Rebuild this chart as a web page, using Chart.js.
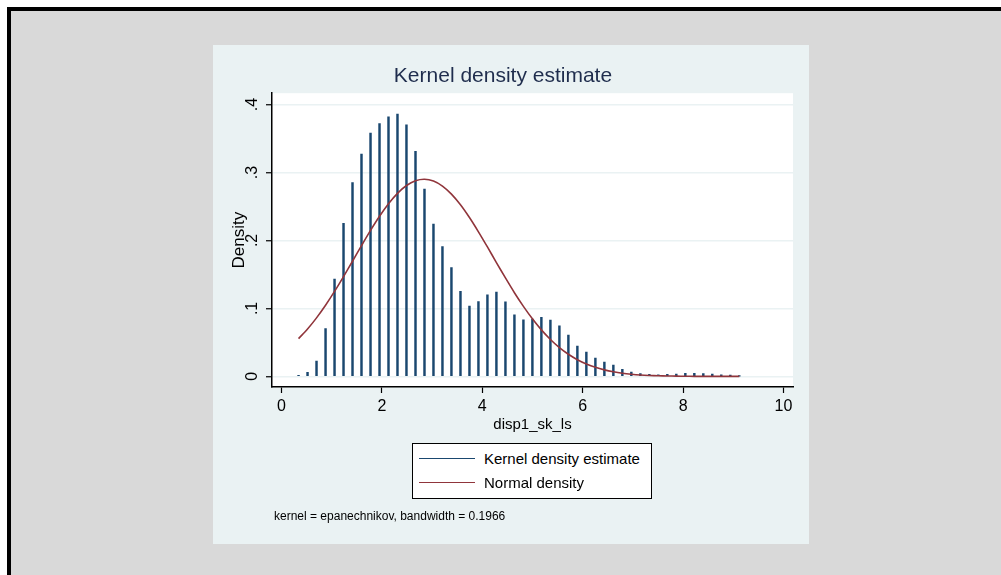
<!DOCTYPE html>
<html>
<head>
<meta charset="utf-8">
<script src="https://cdn.jsdelivr.net/npm/chart.js@4"></script>
<style>
  html, body { margin: 0; padding: 0; width: 1001px; height: 575px; background: #ffffff; overflow: hidden; font-family: "Liberation Sans", Arial, sans-serif; }
  #frame { position: absolute; left: 7px; top: 7px; width: 1000px; height: 575px; background: #d9d9d9; border-top: 4px solid #000; border-left: 4px solid #000; box-sizing: border-box; }
  #panel { position: absolute; left: 213px; top: 45px; width: 596px; height: 499px; background: #eaf2f3; }
  #chart { position: absolute; left: 0; top: 0; width: 596px; height: 499px; }
  #legend { position: absolute; left: 199px; top: 398px; width: 240px; height: 56px; background: #fff; border: 1px solid #000; box-sizing: border-box; }
  .li { position: absolute; left: 0; height: 20px; width: 238px; }
  .li .sw { position: absolute; left: 6px; width: 56px; top: 9px; height: 0; border-top: 1.5px solid; }
  .li .tx { position: absolute; left: 71px; top: 0; font-size: 15px; line-height: 20px; color: #000; white-space: nowrap; }
  #note { position: absolute; left: 61px; top: 463px; font-size: 12px; line-height: 16px; color: #000; white-space: nowrap; }
</style>
</head>
<body>
<div id="frame"></div>
<div id="panel">
  <canvas id="chart" width="596" height="499"></canvas>
  <div id="legend"></div>
  <div id="note"></div>
</div>
<script>
// ---- data ----
const titleText = "Kernel density estimate";
const xTitle = "disp1_sk_ls";
const yTitle = "Density";
const noteText = "kernel = epanechnikov, bandwidth = 0.1966";
const seriesNames = ["Kernel density estimate", "Normal density"];

const gridX = [0.339,0.518,0.697,0.877,1.056,1.235,1.414,1.593,1.773,1.952,
               2.131,2.310,2.489,2.669,2.848,3.027,3.206,3.385,3.565,3.744,
               3.923,4.102,4.281,4.461,4.640,4.819,4.998,5.177,5.357,5.536,
               5.715,5.894,6.073,6.253,6.432,6.611,6.790,6.969,7.149,7.328,
               7.507,7.686,7.865,8.045,8.224,8.403,8.582,8.761,8.941,9.120];

const kernelDensity = [0.0015,0.006,0.0225,0.0705,0.143,0.225,0.285,0.327,0.358,0.372,
                       0.382,0.386,0.370,0.331,0.2755,0.224,0.191,0.160,0.125,0.1034,
                       0.110,0.120,0.124,0.1097,0.0906,0.0833,0.0843,0.0868,0.0828,0.0745,
                       0.0607,0.0446,0.0357,0.027,0.021,0.0166,0.0103,0.0063,0.004,0.003,
                       0.0024,0.003,0.0034,0.0044,0.0044,0.004,0.0034,0.0024,0.002,0.0005];

const normalDensity = [0.0555,0.0697,0.0861,0.1047,0.1250,0.1468,0.1694,0.1923,0.2147,0.2355,
                       0.2540,0.2693,0.2808,0.2879,0.2901,0.2874,0.2800,0.2682,0.2525,0.2337,
                       0.2127,0.1904,0.1675,0.1448,0.1231,0.1030,0.0847,0.0684,0.0543,0.0424,
                       0.0326,0.0246,0.0183,0.0133,0.0096,0.0068,0.0047,0.0032,0.0021,0.0014,
                       0.0009,0.0006,0.0004,0.0002,0.0001,0.0001,0.0000,0.0000,0.0000,0.0000];

const xTickValues = [0, 2, 4, 6, 8, 10];
const xTickLabels = ["0", "2", "4", "6", "8", "10"];
const yTickValues = [0, 0.1, 0.2, 0.3, 0.4];
const yTickLabels = ["0", ".1", ".2", ".3", ".4"];

// ---- styles ----
const navy = "#1a476f";
const maroon = "#90353b";
const gridBlue = "#eaf2f3";

const plotBg = {
  id: "plotBg",
  beforeDraw(chart) {
    const {ctx, chartArea: a} = chart;
    ctx.save();
    ctx.fillStyle = "#ffffff";
    ctx.fillRect(a.left, a.top, a.right - a.left, a.bottom - a.top);
    ctx.restore();
  }
};

new Chart(document.getElementById("chart"), {
  type: "bar",
  data: {
    datasets: [
      {
        type: "bar",
        label: seriesNames[0],
        data: gridX.map((x, i) => ({x: x, y: kernelDensity[i]})),
        backgroundColor: navy,
        borderWidth: 0,
        barThickness: 1.8,
        order: 2
      },
      {
        type: "line",
        label: seriesNames[1],
        data: gridX.map((x, i) => ({x: x, y: normalDensity[i]})),
        borderColor: maroon,
        borderWidth: 1.6,
        pointRadius: 0,
        fill: false,
        tension: 0.3,
        order: 1
      }
    ]
  },
  options: {
    responsive: false,
    animation: false,
    devicePixelRatio: 1,
    layout: { padding: { top: 0, left: 0, right: 16, bottom: 110 } },
    plugins: {
      legend: { display: false },
      tooltip: { enabled: false },
      title: {
        display: true,
        text: titleText,
        color: "#1f2d4d",
        font: { family: "Liberation Sans", size: 21, weight: "normal" },
        padding: { top: 19, bottom: 4 }
      }
    },
    scales: {
      x: {
        type: "linear",
        offset: false,
        min: -0.19,
        max: 10.19,
        afterBuildTicks: (s) => { s.ticks = xTickValues.map(v => ({value: v})); },
        afterFit: (s) => { s.height = 47; },
        ticks: {
          autoSkip: false,
          maxRotation: 0,
          padding: 4,
          color: "#000",
          font: { family: "Liberation Sans", size: 16 },
          callback: (v, i) => xTickLabels[i]
        },
        grid: {
          offset: false,
          display: true,
          drawOnChartArea: false,
          drawTicks: true,
          tickLength: 6,
          tickColor: "#000",
          tickWidth: 1.2
        },
        border: { display: true, color: "#000", width: 1.5 },
        title: {
          display: true,
          text: xTitle,
          color: "#000",
          font: { family: "Liberation Sans", size: 15 },
          padding: { top: 0, bottom: 0 }
        }
      },
      y: {
        type: "linear",
        min: -0.0156,
        max: 0.4166,
        afterBuildTicks: (s) => { s.ticks = yTickValues.map(v => ({value: v})); },
        afterFit: (s) => { s.width = 59; },
        ticks: {
          autoSkip: false,
          minRotation: 90,
          maxRotation: 90,
          crossAlign: "center",
          padding: 7,
          color: "#000",
          font: { family: "Liberation Sans", size: 16 },
          callback: (v, i) => yTickLabels[i]
        },
        grid: {
          display: true,
          drawOnChartArea: true,
          color: gridBlue,
          lineWidth: 1.5,
          drawTicks: true,
          tickLength: 6,
          tickColor: "#000",
          tickWidth: 1.2
        },
        border: { display: true, color: "#000", width: 1.5 },
        title: {
          display: true,
          text: yTitle,
          color: "#000",
          font: { family: "Liberation Sans", size: 17 },
          padding: { top: 16, bottom: 0 }
        }
      }
    }
  },
  plugins: [plotBg]
});

// legend and note (text)
const legendEl = document.getElementById("legend");
[navy, maroon].forEach((c, i) => {
  const row = document.createElement("div");
  row.className = "li";
  row.style.top = (5 + i * 24) + "px";
  row.innerHTML = '<div class="sw" style="border-top-color:' + c + '"></div><div class="tx"></div>';
  row.querySelector(".tx").textContent = seriesNames[i];
  legendEl.appendChild(row);
});
document.getElementById("note").textContent = noteText;
</script>
</body>
</html>
